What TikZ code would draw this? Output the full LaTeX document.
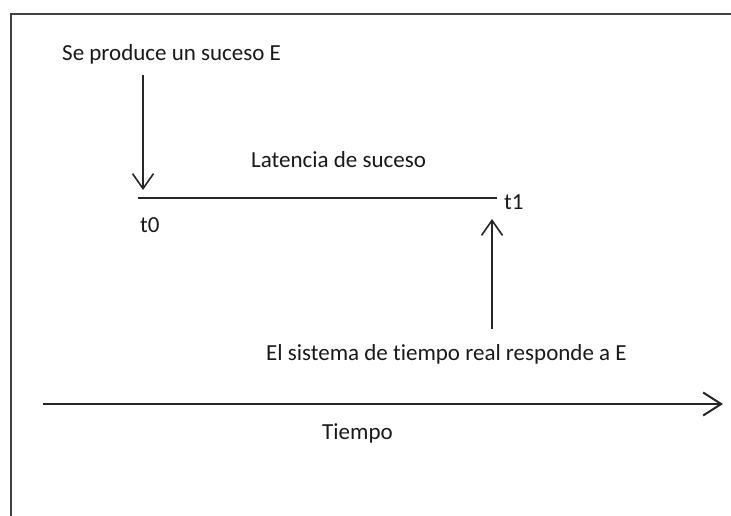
\documentclass[tikz,border=0pt]{standalone}
\usepackage{fontspec}
\setmainfont{Carlito}[Ligatures={NoCommon}]
\usetikzlibrary{arrows.meta}
\begin{document}
\begin{tikzpicture}[x=1pt,y=-1pt,
  lbl/.style={inner sep=0pt,anchor=base west,font=\fontsize{23}{27}\selectfont,text=black!90},
  conn/.style={line width=1.5pt,black!85},
  barb/.style={-{Straight Barb[length=15pt,width=21pt,line width=1.6pt]}}]
\useasboundingbox (0,0) rectangle (731,515);
\draw[line width=2.5pt,black!75] (11,516) -- (11,14) -- (732,14);
% texts
\node[lbl] (ev) at (62,60) {Se produce un suceso E};
\node[lbl] (lat) at (251,167) {Latencia de suceso};
\node[lbl] (t0) at (140,232) {t0};
\node[lbl] (t1) at (504,209) {t1};
\node[lbl] (resp) at (266,360) {El sistema de tiempo real responde a E};
\node[lbl] (tiempo) at (322,439) {Tiempo};
% coordinates
\coordinate (dA) at (143,75);
\coordinate (dB) at (143,190);
\coordinate (hA) at (138,198);
\coordinate (hB) at (497,198);
\coordinate (uA) at (492,329);
\coordinate (uB) at (492,219);
\coordinate (xA) at (43,404);
\coordinate (xB) at (723,404);
\draw[conn,barb] (dA) -- (dB);
\draw[conn] (hA) -- (hB);
\draw[conn,barb] (uA) -- (uB);
\draw[conn,line width=2pt,-{Straight Barb[length=18pt,width=23pt,line width=2pt]}] (xA) -- (xB);
\end{tikzpicture}
\end{document}
